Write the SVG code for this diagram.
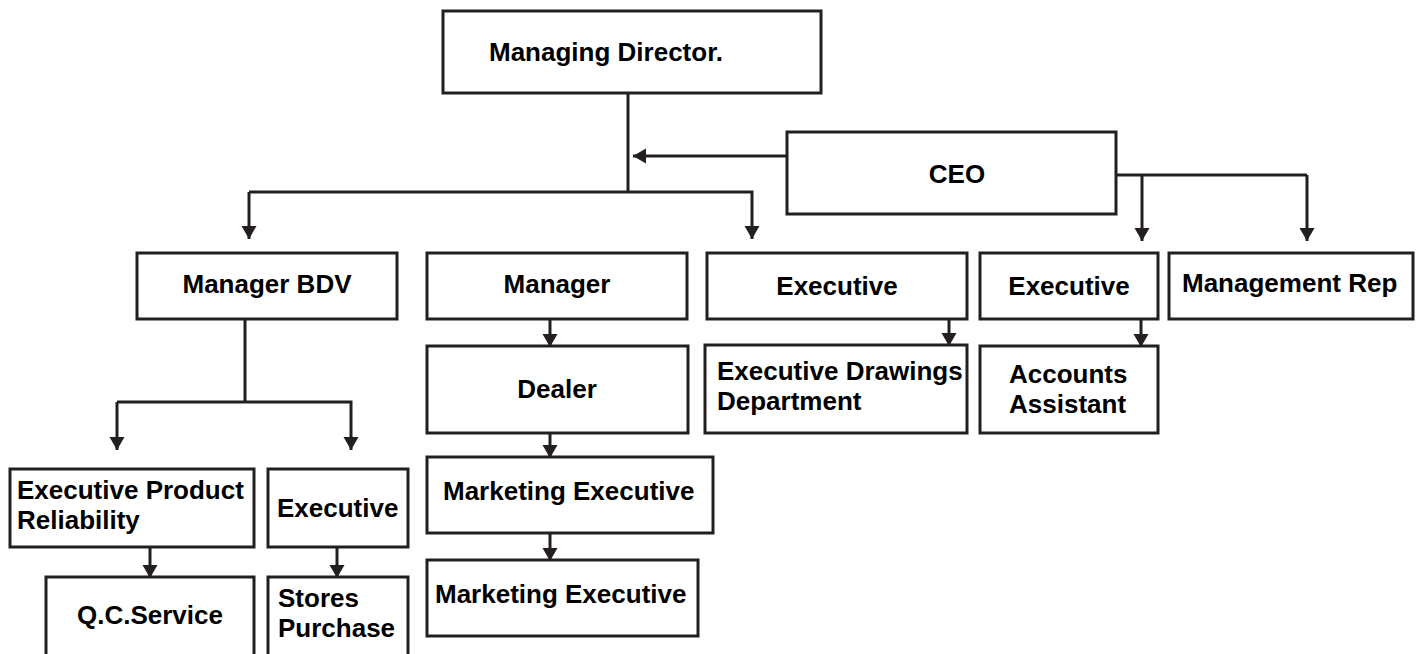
<svg xmlns="http://www.w3.org/2000/svg" width="1421" height="654" viewBox="0 0 1421 654">
<style>
.box{fill:#fff;stroke:#231f20;stroke-width:3}
.t{font-family:"Liberation Sans",Arial,sans-serif;font-weight:bold;font-size:26px;fill:#000}
.c{text-anchor:middle}
.ln{fill:none;stroke:#231f20;stroke-width:3}
.ar{fill:none;stroke:#231f20;stroke-width:3;marker-end:url(#ah)}
</style>
<defs>
<marker id="ah" markerUnits="userSpaceOnUse" markerWidth="16" markerHeight="16" refX="13" refY="8" orient="auto">
<path d="M0,0.5 L13,8 L0,15.5 Z" fill="#231f20"/>
</marker>
</defs>
<rect width="1421" height="654" fill="#fff"/>
<g id="connectors">
<path class="ln" d="M628,93 V192"/>
<path class="ar" d="M249,192 H752 V239"/>
<path class="ar" d="M249,192 V239"/>
<path class="ar" d="M787,156 H633"/>
<path class="ln" d="M1115,175 H1307"/>
<path class="ar" d="M1142,175 V241"/>
<path class="ar" d="M1307,175 V241"/>
<path class="ln" d="M245,319 V402"/>
<path class="ar" d="M117,402 H351 V450"/>
<path class="ar" d="M117,402 V450"/>
<path class="ar" d="M550,319 V347"/>
<path class="ar" d="M550,433 V458"/>
<path class="ar" d="M550,533 V561"/>
<path class="ar" d="M949,319 V346"/>
<path class="ar" d="M1141,319 V347"/>
<path class="ar" d="M150,547 V578"/>
<path class="ar" d="M337,547 V578"/>
</g>
<g id="md"><rect class="box" x="443" y="11" width="378" height="82"/><text class="t" x="489" y="61">Managing Director.</text></g>
<g id="ceo"><rect class="box" x="787" y="132" width="329" height="82"/><text class="t c" x="957" y="183">CEO</text></g>
<g id="mgr-bdv"><rect class="box" x="137" y="253" width="260" height="66"/><text class="t c" x="267" y="293">Manager BDV</text></g>
<g id="mgr"><rect class="box" x="427" y="253" width="260" height="66"/><text class="t c" x="557" y="293">Manager</text></g>
<g id="exec1"><rect class="box" x="707" y="253" width="260" height="66"/><text class="t c" x="837" y="295">Executive</text></g>
<g id="exec2"><rect class="box" x="980" y="253" width="178" height="66"/><text class="t c" x="1069" y="295">Executive</text></g>
<g id="mrep"><rect class="box" x="1169" y="253" width="244" height="66"/><text class="t" x="1182" y="292">Management Rep</text></g>
<g id="dealer"><rect class="box" x="427" y="346" width="261" height="87"/><text class="t c" x="557" y="398">Dealer</text></g>
<g id="edd"><rect class="box" x="705" y="345" width="262" height="88"/><text class="t" x="717" y="380">Executive Drawings</text><text class="t" x="717" y="410">Department</text></g>
<g id="acc"><rect class="box" x="980" y="346" width="178" height="87"/><text class="t" x="1009" y="383">Accounts</text><text class="t" x="1009" y="413">Assistant</text></g>
<g id="mkt1"><rect class="box" x="427" y="457" width="286" height="76"/><text class="t" x="443" y="500">Marketing Executive</text></g>
<g id="mkt2"><rect class="box" x="427" y="560" width="271" height="76"/><text class="t" x="435" y="603">Marketing Executive</text></g>
<g id="epr"><rect class="box" x="10" y="469" width="244" height="78"/><text class="t" x="17" y="499">Executive Product</text><text class="t" x="17" y="529">Reliability</text></g>
<g id="exec3"><rect class="box" x="268" y="469" width="140" height="78"/><text class="t" x="277" y="517">Executive</text></g>
<g id="qc"><rect class="box" x="46" y="577" width="208" height="80"/><text class="t c" x="150" y="624">Q.C.Service</text></g>
<g id="stores"><rect class="box" x="268" y="577" width="140" height="80"/><text class="t" x="278" y="607">Stores</text><text class="t" x="278" y="637">Purchase</text></g>
</svg>
